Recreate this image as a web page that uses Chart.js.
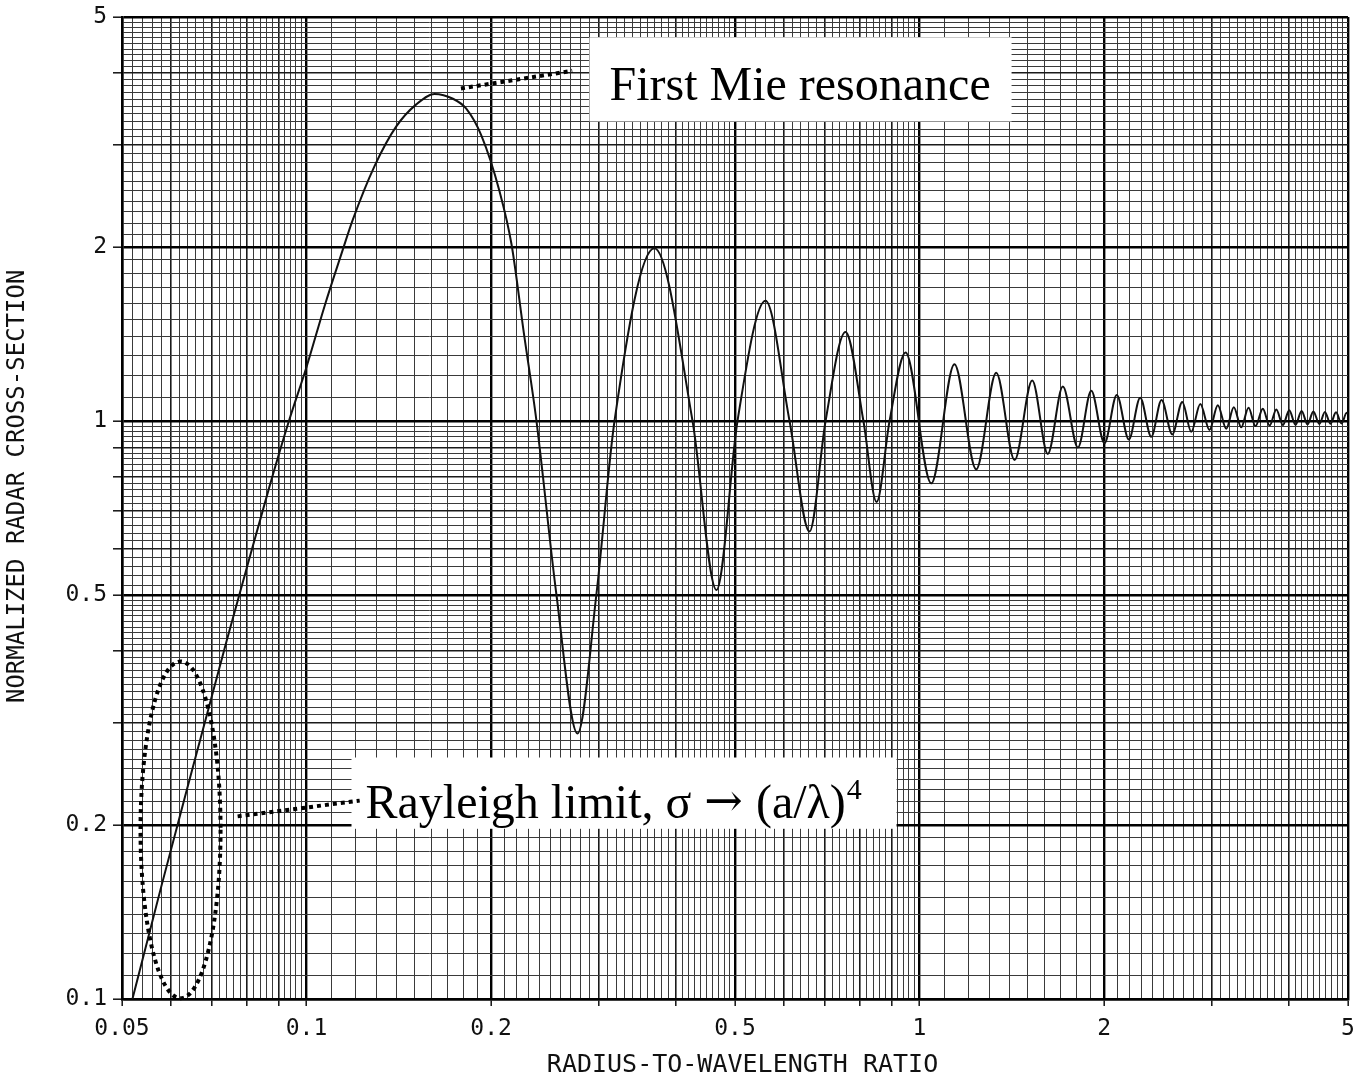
<!DOCTYPE html>
<html>
<head>
<meta charset="utf-8">
<script src="https://cdn.jsdelivr.net/npm/chart.js@4.4.1/dist/chart.umd.min.js"></script>
<style>
  html, body { margin: 0; padding: 0; background: #fff; }
  #wrap { width: 1353px; height: 1081px; }
</style>
</head>
<body>
<div id="wrap"><canvas id="rcs"></canvas></div>
<script>
// radius-to-wavelength ratio a/lambda
const ratioValues = [
  0.052, 0.0579, 0.065, 0.0741, 0.08, 0.087, 0.0936, 0.1, 0.107, 0.1139,
  0.119, 0.1291, 0.140, 0.151, 0.1617, 0.1733, 0.1822, 0.1928, 0.2064, 0.216,
  0.2262, 0.2372, 0.2557, 0.2767, 0.297, 0.318, 0.3694, 0.4263, 0.4664, 0.5047,
  0.5607, 0.6137, 0.6615, 0.7026, 0.7573, 0.81, 0.851, 0.8935, 0.9488,
  1.045, 1.14, 1.237, 1.334, 1.429, 1.527, 1.619, 1.713, 1.813, 1.906,
  2.003, 2.098, 2.195, 2.291, 2.388, 2.482, 2.584, 2.683, 2.775, 2.871,
  2.972, 3.066, 3.165, 3.256, 3.348, 3.441, 3.532, 3.631, 3.725, 3.82,
  3.915, 4.01, 4.105, 4.20, 4.295, 4.39, 4.49, 4.585, 4.68, 4.78,
  4.88, 4.975, 5.0
];
// normalized radar cross-section
const rcsValues = [
  0.1, 0.156, 0.248, 0.417, 0.56, 0.77, 1.0, 1.24, 1.58, 1.94,
  2.23, 2.76, 3.23, 3.53, 3.68, 3.61, 3.47, 3.12, 2.5, 2.02,
  1.42, 1.0, 0.5, 0.288, 0.5, 1.0, 1.99, 1.0, 0.51, 1.0,
  1.614, 1.0, 0.644, 1.0, 1.426, 1.0, 0.724, 1.0, 1.314,
  0.780, 1.254, 0.825, 1.212, 0.856, 1.175, 0.877, 1.147, 0.900, 1.128,
  0.915, 1.109, 0.929, 1.097, 0.939, 1.087, 0.948, 1.079, 0.958, 1.070,
  0.965, 1.065, 0.970, 1.056, 0.975, 1.054, 0.980, 1.050, 0.982, 1.047,
  0.984, 1.044, 0.985, 1.041, 0.987, 1.039, 0.988, 1.037, 0.989, 1.035,
  0.990, 1.033, 1.03
];

const xTickLabels = [0.05, 0.1, 0.2, 0.5, 1, 2, 5];
const yTickLabels = [0.1, 0.2, 0.5, 1, 2, 5];

// log paper rulings: [from, to, step]
const xRulings = [[0.05, 0.1, 0.002], [0.1, 0.2, 0.01], [0.2, 0.5, 0.01], [0.5, 1, 0.02], [1, 2, 0.1], [2, 5, 0.1]];
const yRulings = [[0.1, 0.2, 0.01], [0.2, 0.5, 0.01], [0.5, 1, 0.02], [1, 2, 0.1], [2, 5, 0.1]];

const plotterFont = '"DejaVu Sans Mono", monospace';
const serifFont = '"Liberation Serif", "Times New Roman", serif';

function rulingValues(rulings) {
  const out = [];
  rulings.forEach(([from, to, step]) => {
    const n = Math.round((to - from) / step);
    for (let i = 0; i <= n; i++) {
      const v = Math.round((from + i * step) * 1e6) / 1e6;
      if (!out.includes(v)) out.push(v);
    }
  });
  return out;
}

function isWholeMantissa(v) {
  const e = Math.floor(Math.log10(v) + 1e-9);
  const m = v / Math.pow(10, e);
  return Math.abs(m - Math.round(m)) < 1e-6;
}

function isLabelled(v, list) {
  return list.some((t) => Math.abs(t - v) < 1e-9);
}

function gridColor(list) {
  return (ctx) => {
    const v = ctx.tick.value;
    if (isLabelled(v, list)) return "#000";
    if (isWholeMantissa(v)) return "#1a1a1a";
    return "#3a3a3a";
  };
}

function gridWidth(list) {
  return (ctx) => {
    const v = ctx.tick.value;
    if (isLabelled(v, list)) return 2.4;
    if (isWholeMantissa(v)) return 1.6;
    return 1;
  };
}

function tickMarkColor(ctx) {
  return isWholeMantissa(ctx.tick.value) ? "#111" : "rgba(0,0,0,0)";
}

// annotations, placed in data units
const notes = {
  mieBox: [0.2894, 1.413, 4.612, 3.298],
  mieText: [0.312, 3.586],
  mieLeader: [0.1786, 3.762, 0.2713, 4.035],
  rayBox: [0.1184, 0.9173, 0.2617, 0.197],
  rayText: [0.1248, 0.2059],
  rayLeader: [0.0772, 0.207, 0.1221, 0.2204],
  rayEllipse: [0.0536, 0.0724, 0.3837, 0.1003]
};

const paperNotes = {
  id: "paperNotes",
  afterDatasetsDraw(chart) {
    const { ctx, scales } = chart;
    const px = (v) => scales.x.getPixelForValue(v);
    const py = (v) => scales.y.getPixelForValue(v);
    ctx.save();

    // white label boxes
    ctx.fillStyle = "#fff";
    [notes.mieBox, notes.rayBox].forEach(([x0, x1, y0, y1]) => {
      ctx.fillRect(px(x0), py(y0), px(x1) - px(x0), py(y1) - py(y0));
    });

    // dotted leaders and ellipse
    ctx.strokeStyle = "#000";
    ctx.lineWidth = 4;
    ctx.setLineDash([4, 4]);
    [notes.mieLeader, notes.rayLeader].forEach(([x0, y0, x1, y1]) => {
      ctx.beginPath();
      ctx.moveTo(px(x0), py(y0));
      ctx.lineTo(px(x1), py(y1));
      ctx.stroke();
    });
    const [ex0, ex1, ey0, ey1] = notes.rayEllipse;
    ctx.beginPath();
    ctx.ellipse((px(ex0) + px(ex1)) / 2, (py(ey0) + py(ey1)) / 2,
      (px(ex1) - px(ex0)) / 2, (py(ey1) - py(ey0)) / 2, 0, 0, Math.PI * 2);
    ctx.stroke();
    ctx.setLineDash([]);

    // texts
    ctx.fillStyle = "#000";
    ctx.textBaseline = "alphabetic";
    ctx.textAlign = "left";
    ctx.font = "48px " + serifFont;
    ctx.fillText("First Mie resonance", px(notes.mieText[0]), py(notes.mieText[1]));

    let rx = px(notes.rayText[0]);
    const ry = py(notes.rayText[1]);
    const pieces = [
      ["Rayleigh limit, \u03C3 ", "48px " + serifFont, 0],
      ["\u2192", '46px "DejaVu Serif", serif', -2],
      [" (a/\u03BB)", "48px " + serifFont, 0],
      ["4", "30px " + serifFont, -19]
    ];
    pieces.forEach(([txt, font, dy]) => {
      ctx.font = font;
      ctx.fillText(txt, rx, ry + dy);
      rx += ctx.measureText(txt).width + (dy < -10 ? 0 : 1);
    });

    ctx.restore();
  }
};

const xGrid = rulingValues(xRulings);
const yGrid = rulingValues(yRulings);

new Chart(document.getElementById("rcs"), {
  type: "line",
  data: {
    datasets: [{
      data: ratioValues.map((r, i) => ({ x: r, y: rcsValues[i] })),
      borderColor: "#111",
      borderWidth: 2,
      pointRadius: 0,
      fill: false,
      cubicInterpolationMode: "monotone"
    }]
  },
  options: {
    responsive: true,
    maintainAspectRatio: false,
    animation: false,
    events: [],
    layout: { padding: { top: 17, right: 5, left: 0, bottom: 0 } },
    plugins: {
      legend: { display: false },
      tooltip: { enabled: false }
    },
    scales: {
      x: {
        type: "logarithmic",
        min: 0.05,
        max: 5,
        afterBuildTicks: (axis) => {
          axis.ticks = xGrid.map((v) => ({ value: v }));
        },
        afterFit: (axis) => {
          axis.height = 82;
          axis.paddingLeft = 0;
          axis.paddingRight = 0;
        },
        border: { color: "#000", width: 2.5 },
        grid: {
          color: gridColor(xTickLabels),
          lineWidth: gridWidth(xTickLabels),
          tickColor: tickMarkColor,
          tickWidth: 1.5,
          tickLength: 7
        },
        ticks: {
          autoSkip: false,
          maxRotation: 0,
          minRotation: 0,
          padding: 9,
          color: "#111",
          font: { family: plotterFont, size: 23 },
          callback: (value) => (isLabelled(value, xTickLabels) ? String(value) : "")
        },
        title: {
          display: true,
          text: " RADIUS-TO-WAVELENGTH RATIO",
          color: "#111",
          font: { family: plotterFont, size: 25 },
          padding: { top: 2, bottom: 1 }
        }
      },
      y: {
        type: "logarithmic",
        min: 0.1,
        max: 5,
        afterBuildTicks: (axis) => {
          axis.ticks = yGrid.map((v) => ({ value: v }));
        },
        afterFit: (axis) => {
          axis.width = 122;
          axis.paddingTop = 0;
          axis.paddingBottom = 0;
        },
        border: { color: "#000", width: 2.5 },
        grid: {
          color: gridColor(yTickLabels),
          lineWidth: gridWidth(yTickLabels),
          tickColor: tickMarkColor,
          tickWidth: 1.5,
          tickLength: 9
        },
        ticks: {
          autoSkip: false,
          padding: 6,
          color: "#111",
          font: { family: plotterFont, size: 23 },
          callback: (value) => (isLabelled(value, yTickLabels) ? String(value) : "")
        },
        title: {
          display: true,
          text: "   NORMALIZED RADAR CROSS-SECTION",
          color: "#111",
          font: { family: plotterFont, size: 24 },
          padding: { top: 3, bottom: 2 }
        }
      }
    }
  },
  plugins: [paperNotes]
});
</script>
</body>
</html>
